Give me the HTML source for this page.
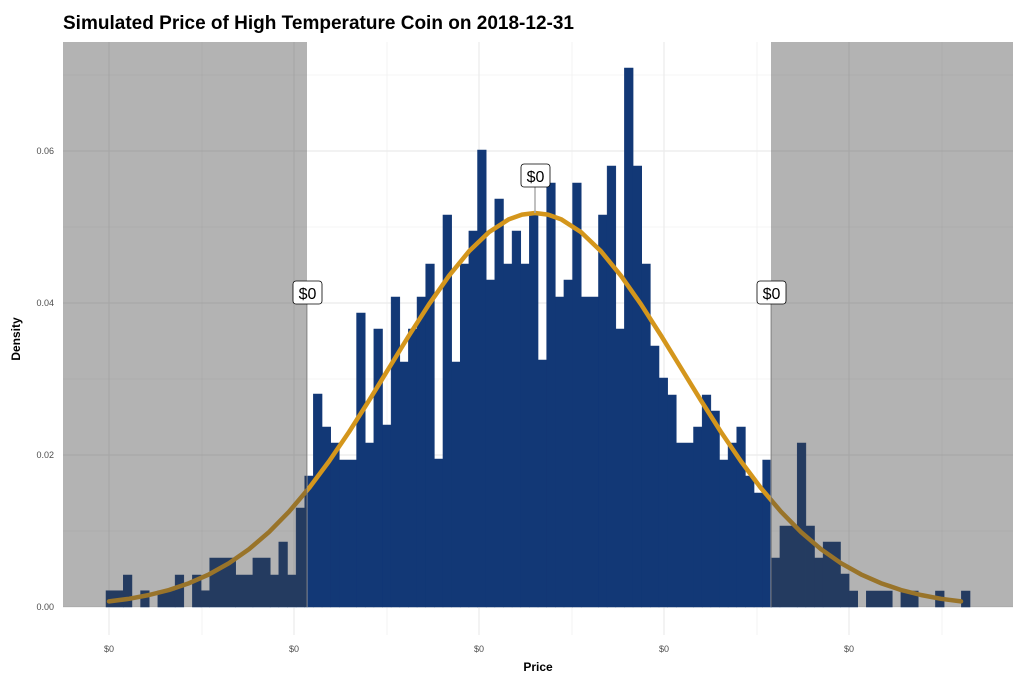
<!DOCTYPE html>
<html><head><meta charset="utf-8"><style>
body{margin:0;background:#fff}
svg{display:block;font-family:"Liberation Sans",sans-serif}
</style></head><body>
<svg width="1024" height="683" viewBox="0 0 1024 683" xmlns="http://www.w3.org/2000/svg">
<rect width="1024" height="683" fill="#fff"/>
<g stroke="#ebebeb">
<g stroke-width="0.6">
<line x1="63" x2="1013" y1="75" y2="75"/><line x1="63" x2="1013" y1="227" y2="227"/><line x1="63" x2="1013" y1="379" y2="379"/><line x1="63" x2="1013" y1="531" y2="531"/>
<line x1="202" x2="202" y1="42" y2="635"/><line x1="387" x2="387" y1="42" y2="635"/><line x1="572" x2="572" y1="42" y2="635"/><line x1="757" x2="757" y1="42" y2="635"/><line x1="942" x2="942" y1="42" y2="635"/>
</g>
<g stroke-width="1.2">
<line x1="63" x2="1013" y1="151" y2="151"/><line x1="63" x2="1013" y1="303" y2="303"/><line x1="63" x2="1013" y1="455" y2="455"/><line x1="63" x2="1013" y1="607" y2="607"/>
<line x1="109" x2="109" y1="42" y2="635"/><line x1="294" x2="294" y1="42" y2="635"/><line x1="479" x2="479" y1="42" y2="635"/><line x1="664" x2="664" y1="42" y2="635"/><line x1="849" x2="849" y1="42" y2="635"/>
</g>
</g>
<g fill="#123876" stroke="#123876" stroke-width="0.5">
<rect x="106" y="590.7" width="17.4" height="16.3"/>
<rect x="123.28" y="575" width="8.7" height="32"/>
<rect x="140.56" y="590.7" width="8.7" height="16.3"/>
<rect x="157.84" y="590.7" width="17.4" height="16.3"/>
<rect x="175.12" y="575" width="8.7" height="32"/>
<rect x="192.40" y="575" width="8.7" height="32"/>
<rect x="201.04" y="590.7" width="8.7" height="16.3"/>
<rect x="209.68" y="558" width="26" height="49"/>
<rect x="235.60" y="575" width="17.4" height="32"/>
<rect x="252.88" y="558" width="17.4" height="49"/>
<rect x="270.16" y="575" width="8.7" height="32"/>
<rect x="278.80" y="542" width="8.7" height="65"/>
<rect x="287.44" y="575" width="8.7" height="32"/>
<rect x="296.08" y="508" width="8.7" height="99"/>
<rect x="304.72" y="476" width="8.7" height="131"/>
<rect x="313.36" y="394" width="8.7" height="213"/>
<rect x="322.00" y="427" width="8.7" height="180"/>
<rect x="330.64" y="443" width="8.7" height="164"/>
<rect x="339.28" y="460" width="17.4" height="147"/>
<rect x="356.56" y="313" width="8.7" height="294"/>
<rect x="365.20" y="443" width="8.7" height="164"/>
<rect x="373.84" y="329" width="8.7" height="278"/>
<rect x="382.48" y="425" width="8.7" height="182"/>
<rect x="391.12" y="297" width="8.7" height="310"/>
<rect x="399.76" y="362" width="8.7" height="245"/>
<rect x="408.40" y="329" width="8.7" height="278"/>
<rect x="417.04" y="297" width="8.7" height="310"/>
<rect x="425.68" y="264" width="8.7" height="343"/>
<rect x="434.32" y="459" width="8.7" height="148"/>
<rect x="442.96" y="215" width="8.7" height="392"/>
<rect x="451.60" y="362" width="8.7" height="245"/>
<rect x="460.24" y="264" width="8.7" height="343"/>
<rect x="468.88" y="231" width="8.7" height="376"/>
<rect x="477.52" y="150" width="8.7" height="457"/>
<rect x="486.16" y="280" width="8.7" height="327"/>
<rect x="494.80" y="199" width="8.7" height="408"/>
<rect x="503.44" y="264" width="8.7" height="343"/>
<rect x="512.08" y="231" width="8.7" height="376"/>
<rect x="520.72" y="264" width="8.7" height="343"/>
<rect x="529.36" y="213" width="8.7" height="394"/>
<rect x="538.00" y="360" width="8.7" height="247"/>
<rect x="546.64" y="183" width="8.7" height="424"/>
<rect x="555.28" y="297" width="8.7" height="310"/>
<rect x="563.92" y="280" width="8.7" height="327"/>
<rect x="572.56" y="183" width="8.7" height="424"/>
<rect x="581.20" y="297" width="17.4" height="310"/>
<rect x="598.48" y="215" width="8.7" height="392"/>
<rect x="607.12" y="166" width="8.7" height="441"/>
<rect x="615.76" y="329" width="8.7" height="278"/>
<rect x="624.40" y="68" width="8.7" height="539"/>
<rect x="633.04" y="166" width="8.7" height="441"/>
<rect x="641.68" y="264" width="8.7" height="343"/>
<rect x="650.32" y="346" width="8.7" height="261"/>
<rect x="658.96" y="378" width="8.7" height="229"/>
<rect x="667.60" y="395" width="8.7" height="212"/>
<rect x="676.24" y="443" width="17.4" height="164"/>
<rect x="693.52" y="427" width="8.7" height="180"/>
<rect x="702.16" y="395" width="8.7" height="212"/>
<rect x="710.80" y="411" width="8.7" height="196"/>
<rect x="719.44" y="460" width="8.7" height="147"/>
<rect x="728.08" y="443" width="8.7" height="164"/>
<rect x="736.72" y="427" width="8.7" height="180"/>
<rect x="745.36" y="476" width="8.7" height="131"/>
<rect x="754.00" y="493" width="8.7" height="114"/>
<rect x="762.64" y="460" width="8.7" height="147"/>
<rect x="771.28" y="558" width="8.7" height="49"/>
<rect x="779.92" y="526" width="17.4" height="81"/>
<rect x="797.20" y="443" width="8.7" height="164"/>
<rect x="805.84" y="526" width="8.7" height="81"/>
<rect x="814.48" y="558" width="8.7" height="49"/>
<rect x="823.12" y="542" width="17.4" height="65"/>
<rect x="840.40" y="574" width="8.7" height="33"/>
<rect x="849.04" y="591" width="8.7" height="16"/>
<rect x="866.32" y="591" width="26" height="16"/>
<rect x="900.88" y="591" width="17.4" height="16"/>
<rect x="935.44" y="591" width="8.7" height="16"/>
<rect x="961.36" y="591" width="8.7" height="16"/>
</g>
<polyline fill="none" stroke="#d4961c" stroke-width="4.5" stroke-linecap="round" stroke-linejoin="round" points="109,601.4 129,598.8 149,595.0 169,590.0 189,583.2 209,574.4 229,563.2 249,549.2 269,532.1 289,511.7 309,488.1 329,461.4 349,432.0 369,400.6 389,368.0 409,335.5 429,304.3 449,275.8 469,251.3 489,232.1 509,219.2 522,214.6 535,213 548,214.6 561,219.2 581,232.1 601,251.3 621,275.8 641,304.3 661,335.5 681,368.0 701,400.6 721,432.0 741,461.4 761,488.1 781,511.7 801,532.1 821,549.2 841,563.2 861,574.4 881,583.2 901,590.0 921,595.0 941,598.8 961,601.4"/>
<line x1="307" x2="307" y1="303" y2="607" stroke="#999" stroke-width="1"/>
<line x1="771" x2="771" y1="303" y2="607" stroke="#999" stroke-width="1"/>
<line x1="535" x2="535" y1="186" y2="213" stroke="#aaa" stroke-width="1.5"/>
<rect x="63" y="42" width="244" height="565" fill="rgb(64,64,64)" fill-opacity="0.4"/>
<rect x="771" y="42" width="242" height="565" fill="rgb(64,64,64)" fill-opacity="0.4"/>
<g font-size="16" text-anchor="middle" fill="#000">
<rect x="293" y="281" width="29" height="23" rx="3" fill="#fff" stroke="#000" stroke-width="0.8"/><text x="307.5" y="299">$0</text>
<rect x="521" y="164" width="29" height="23" rx="3" fill="#fff" stroke="#000" stroke-width="0.8"/><text x="535.5" y="182">$0</text>
<rect x="757" y="281" width="29" height="23" rx="3" fill="#fff" stroke="#000" stroke-width="0.8"/><text x="771.5" y="299">$0</text>
</g>
<g font-size="9" fill="#4d4d4d" text-anchor="end">
<text x="54" y="610">0.00</text><text x="54" y="458">0.02</text><text x="54" y="306">0.04</text><text x="54" y="154">0.06</text>
</g>
<g font-size="9" fill="#4d4d4d" text-anchor="middle">
<text x="109" y="652">$0</text><text x="294" y="652">$0</text><text x="479" y="652">$0</text><text x="664" y="652">$0</text><text x="849" y="652">$0</text>
</g>
<text x="538" y="671" font-size="12" font-weight="bold" text-anchor="middle">Price</text>
<text transform="translate(20,339) rotate(-90)" font-size="12" font-weight="bold" text-anchor="middle">Density</text>
<text x="63" y="29" font-size="19" font-weight="bold" textLength="511" lengthAdjust="spacingAndGlyphs">Simulated Price of High Temperature Coin on 2018-12-31</text>
</svg>
</body></html>
